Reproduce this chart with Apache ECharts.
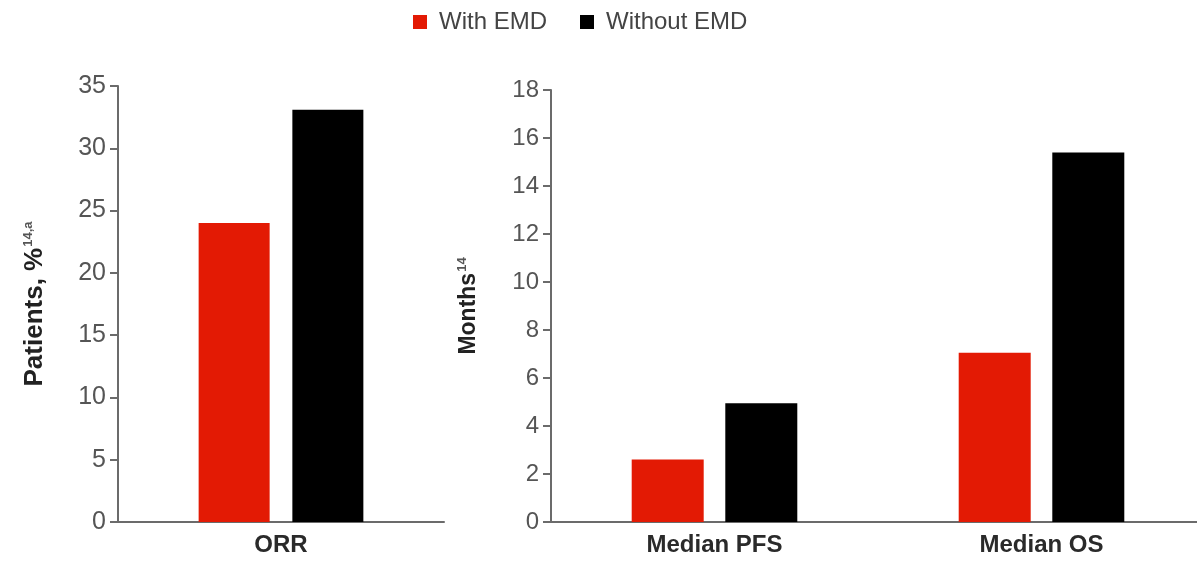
<!DOCTYPE html>
<html>
<head>
<meta charset="utf-8">
<script src="https://cdn.jsdelivr.net/npm/echarts@6/dist/echarts.min.js"></script>
<style>html,body{margin:0;padding:0;background:#fff}#c{width:1197px;height:561px}</style>
</head>
<body>
<div id="c"></div>
<script>
const seriesNames = ['With EMD', 'Without EMD'];
const leftCategories = ['ORR'];
const leftWithEMD = [24];
const leftWithoutEMD = [33.1];
const rightCategories = ['Median PFS', 'Median OS'];
const rightWithEMD = [2.6, 7.05];
const rightWithoutEMD = [4.95, 15.4];
const colors = ['#e31a04', '#000000'];

const chart = echarts.init(document.getElementById('c'));
const axisColor = '#6b6b6b';
const font = 'Liberation Sans, Arial, sans-serif';

function yAxis(gi, max, interval, nameRich, gap, nameSize, labelSize) {
  return {
    type: 'value', gridIndex: gi, min: 0, max: max, interval: interval,
    name: nameRich, nameLocation: 'middle', nameGap: gap, nameRotate: 90,
    nameTextStyle: {
      rich: {
        n: {fontSize: nameSize, fontWeight: 'bold', color: '#222', fontFamily: font},
        s: {fontSize: 13, fontWeight: 'bold', color: '#555', fontFamily: font, verticalAlign: 'top', padding: [0,0,13,1]}
      }
    },
    axisLine: {show: true, lineStyle: {color: axisColor, width: 2}},
    axisTick: {show: true, inside: false, length: 8, lineStyle: {color: axisColor, width: 2}},
    splitLine: {show: false},
    axisLabel: {fontSize: labelSize, color: '#555', fontFamily: font, margin: 12}
  };
}
function xAxis(gi, cats) {
  return {
    type: 'category', gridIndex: gi, data: cats,
    axisLine: {show: true, lineStyle: {color: axisColor, width: 2}},
    axisTick: {show: false},
    axisLabel: {fontSize: 24, fontWeight: 'bold', color: '#2a2a2a', fontFamily: font, margin: 11}
  };
}

chart.setOption({
  animation: false,
  legend: {
    top: 10, left: 413, padding: 0, itemWidth: 14, itemHeight: 14, itemGap: 33,
    icon: 'rect',
    textStyle: {fontSize: 24, color: '#444', fontFamily: font, padding: [0,0,0,7]},
    data: seriesNames
  },
  grid: [
    {left: 118, width: 326, top: 86, height: 436, outerBoundsMode: 'none'},
    {left: 551, width: 654, top: 90, height: 432, outerBoundsMode: 'none'}
  ],
  xAxis: [xAxis(0, leftCategories), xAxis(1, rightCategories)],
  yAxis: [
    yAxis(0, 35, 5, '{n|Patients, %}{s|14,a}', 70, 26, 25),
    yAxis(1, 18, 2, '{n|Months}{s|14}', 69, 23, 24)
  ],
  series: [
    {name: seriesNames[0], type: 'bar', xAxisIndex: 0, yAxisIndex: 0, data: leftWithEMD, barWidth: 71, barGap: '32%', itemStyle: {color: colors[0]}},
    {name: seriesNames[1], type: 'bar', xAxisIndex: 0, yAxisIndex: 0, data: leftWithoutEMD, barWidth: 71, barGap: '32%', itemStyle: {color: colors[1]}},
    {name: seriesNames[0], type: 'bar', xAxisIndex: 1, yAxisIndex: 1, data: rightWithEMD, barWidth: 72, barGap: '30%', itemStyle: {color: colors[0]}},
    {name: seriesNames[1], type: 'bar', xAxisIndex: 1, yAxisIndex: 1, data: rightWithoutEMD, barWidth: 72, barGap: '30%', itemStyle: {color: colors[1]}}
  ]
});
</script>
</body>
</html>
